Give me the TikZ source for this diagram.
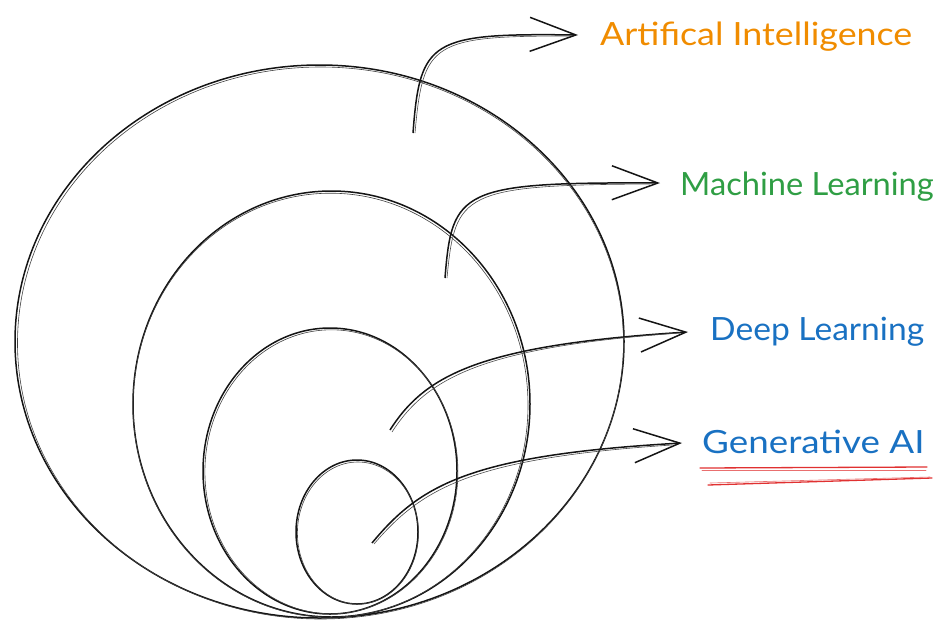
\documentclass[tikz,border=0pt]{standalone}
\usepackage{fontspec}
\setmainfont{Lato}
\usetikzlibrary{arrows.meta}
\definecolor{aiorange}{HTML}{F08C00}
\definecolor{mlgreen}{HTML}{2F9E44}
\definecolor{dlblue}{HTML}{1971C2}
\definecolor{ulred}{HTML}{E03131}
\begin{document}
\begin{tikzpicture}[x=1pt,y=-1pt,
  sk/.style={draw=black!92, line width=1.5pt},
  skthin/.style={draw=black!75, line width=0.6pt},
  arr/.style={draw=black!92, line width=1.5pt, -{Straight Barb[length=46pt,width=34pt,line width=1.5pt]}},
  arrthin/.style={draw=black!70, line width=0.6pt},
  lab/.style={anchor=base west, inner sep=0pt, font=\fontsize{32}{36}\selectfont},
  uline/.style={draw=ulred, line width=1.3pt, line cap=round},
  ulthin/.style={draw=ulred!70, line width=0.6pt, line cap=round},
]
\useasboundingbox (0,0) rectangle (950,635);

% sets
\coordinate (cai) at (319.5,341.5);
\coordinate (cml) at (331.5,404);
\coordinate (cdl) at (330,471);
\coordinate (cga) at (357,532);
\draw[sk] (cai) ellipse [x radius=304.5, y radius=276.5];
\draw[skthin] ([shift={(1,1.5)}]cai) ellipse [x radius=303, y radius=276];
\draw[sk] (cml) ellipse [x radius=198.5, y radius=213];
\draw[skthin] ([shift={(-1,1.2)}]cml) ellipse [x radius=197.5, y radius=212];
\draw[sk] (cdl) ellipse [x radius=127, y radius=143];
\draw[skthin] ([shift={(1.4,0.8)}]cdl) ellipse [x radius=126.5, y radius=142];
\draw[sk] (cga) ellipse [x radius=61, y radius=72];
\draw[skthin] ([shift={(0.9,1)}]cga) ellipse [x radius=60.5, y radius=71];

% labels
\node[lab, text=aiorange] (ai) at (600,45) {\scalebox{1.12}[1]{Artifical Intelligence}};
\node[lab, text=mlgreen] (ml) at (680,195) {\scalebox{1.02}[1]{Machine Learning}};
\node[lab, text=dlblue] (dl) at (710,340) {\scalebox{1.05}[1]{Deep Learning}};
\node[lab, text=dlblue] (ga) at (702,453) {\scalebox{1.15}[1]{Generative AI}};

% arrow starts
\coordinate (sai) at (413,133);
\coordinate (sml) at (445,278);
\coordinate (sdl) at (390,430);
\coordinate (sga) at (372,543);

% connectors
\draw[arr] (sai) .. controls (420,40) and (430,33) .. ([xshift=-22pt,yshift=10pt]ai.base west);
\draw[arrthin] ([shift={(2,0)}]sai) .. controls (423,42) and (432,36) .. ([xshift=-30pt,yshift=9pt]ai.base west);
\draw[arr] (sml) .. controls (452,190) and (460,182) .. ([xshift=-20pt,yshift=12pt]ml.base west);
\draw[arrthin] ([shift={(2,0)}]sml) .. controls (455,193) and (462,185) .. ([xshift=-30pt,yshift=11pt]ml.base west);
\draw[arr] (sdl) .. controls (425,375) and (480,345) .. ([xshift=-22pt,yshift=8pt]dl.base west);
\draw[arrthin] ([shift={(2,2)}]sdl) .. controls (427,378) and (482,347) .. ([xshift=-30pt,yshift=7pt]dl.base west);
\draw[arr] (sga) .. controls (420,485) and (470,455) .. ([xshift=-20pt,yshift=10pt]ga.base west);
\draw[arrthin] ([shift={(2,1)}]sga) .. controls (422,488) and (472,458) .. ([xshift=-30pt,yshift=8pt]ga.base west);

% underline
\draw[uline] (700,468) -- (927,467);
\draw[ulthin] (702,470) -- (926,470);
\draw[uline] (708,485) -- (932,478);
\draw[ulthin] (710,483) -- (930,477);
\end{tikzpicture}
\end{document}
